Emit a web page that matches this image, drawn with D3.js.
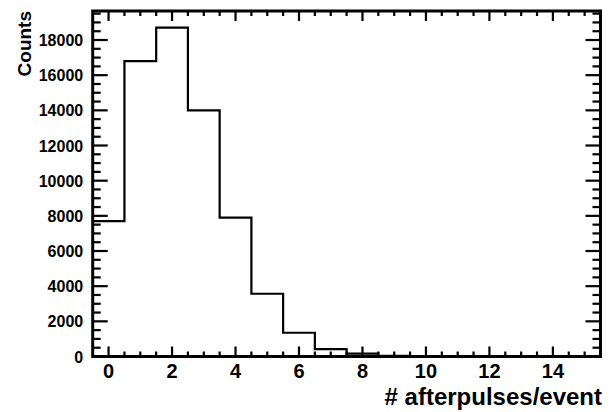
<!DOCTYPE html>
<html lang="en">
<head>
    <meta charset="UTF-8">
    <title>afterpulses</title>
    <script src="https://cdn.jsdelivr.net/npm/d3@7"></script>
    <style>
        body { margin: 0; background: #fff; }
        svg { display: block; }
        text { font-family: 'Liberation Sans', Arial, sans-serif; font-weight: bold; fill: #000; }
    </style>
</head>
<body>
    <svg width="612" height="412" id="mainsvg"></svg>
    <script>
        // bin centres and contents
        const bins = [0, 1, 2, 3, 4, 5, 6, 7, 8, 9, 10, 11, 12, 13, 14, 15];
        const counts = [7700, 16800, 18700, 14000, 7900, 3570, 1350, 420, 160, 40, 10, 0, 0, 0, 0, 0];
        const xTickLabels = [0, 2, 4, 6, 8, 10, 12, 14];
        const yTickLabels = [0, 2000, 4000, 6000, 8000, 10000, 12000, 14000, 16000, 18000];

        const svg = d3.select('#mainsvg');
        const margin = { left: 92.7, right: 11.5, top: 11, bottom: 55.5 };
        const W = 612, H = 412;
        const iw = W - margin.left - margin.right;
        const ih = H - margin.top - margin.bottom;

        const g = svg.append('g').attr('transform', `translate(${margin.left},${margin.top})`);

        const xScale = d3.scaleLinear().domain([-0.5, 15.5]).range([0, iw]);
        const yScale = d3.scaleLinear().domain([0, 19650]).range([ih, 0]);

        // histogram outline
        const pts = [];
        bins.forEach((b, i) => {
            pts.push([b - 0.5, counts[i]]);
            pts.push([b + 0.5, counts[i]]);
        });
        const line = d3.line().x(d => xScale(d[0])).y(d => yScale(d[1]));
        g.append('path').attr('d', line(pts))
            .attr('fill', 'none').attr('stroke', '#000').attr('stroke-width', 2.2);

        // ticks on all four sides (ROOT style, pointing inward)
        const xMinor = d3.range(0, 15.01, 0.5);
        const yMinor = d3.range(500, 19650, 500);
        const tg = g.append('g');
        xMinor.forEach(v => {
            const len = (v % 2 === 0) ? 10 : 5;
            const x = xScale(v);
            tg.append('rect').attr('x', x - 1.1).attr('y', ih - len).attr('width', 2.2).attr('height', len).attr('fill', '#000');
            tg.append('rect').attr('x', x - 1.1).attr('y', 0).attr('width', 2.2).attr('height', len).attr('fill', '#000');
        });
        yMinor.forEach(v => {
            const len = (v % 2000 === 0) ? 15 : 8;
            const y = yScale(v);
            tg.append('rect').attr('x', 0).attr('y', y - 1.1).attr('width', len).attr('height', 2.2).attr('fill', '#000');
            tg.append('rect').attr('x', iw - len).attr('y', y - 1.1).attr('width', len).attr('height', 2.2).attr('fill', '#000');
        });

        // frame
        g.append('rect').attr('width', iw).attr('height', ih)
            .attr('fill', 'none').attr('stroke', '#000').attr('stroke-width', 3);

        // tick labels
        g.selectAll('.xl').data(xTickLabels).enter().append('text')
            .attr('x', d => xScale(d)).attr('y', ih + 21)
            .attr('text-anchor', 'middle').attr('font-size', 20)
            .text(d => d);
        g.selectAll('.yl').data(yTickLabels).enter().append('text')
            .attr('x', -9.5).attr('y', d => yScale(d) + 6)
            .attr('text-anchor', 'end').attr('font-size', 16)
            .text(d => d);

        // axis titles
        svg.append('text').text('# afterpulses/event')
            .attr('x', 602).attr('y', 405)
            .attr('text-anchor', 'end').attr('font-size', 24);
        svg.append('text').text('Counts')
            .attr('transform', 'translate(31,11) rotate(-90)')
            .attr('text-anchor', 'end').attr('font-size', 19);
    </script>
</body>
</html>
